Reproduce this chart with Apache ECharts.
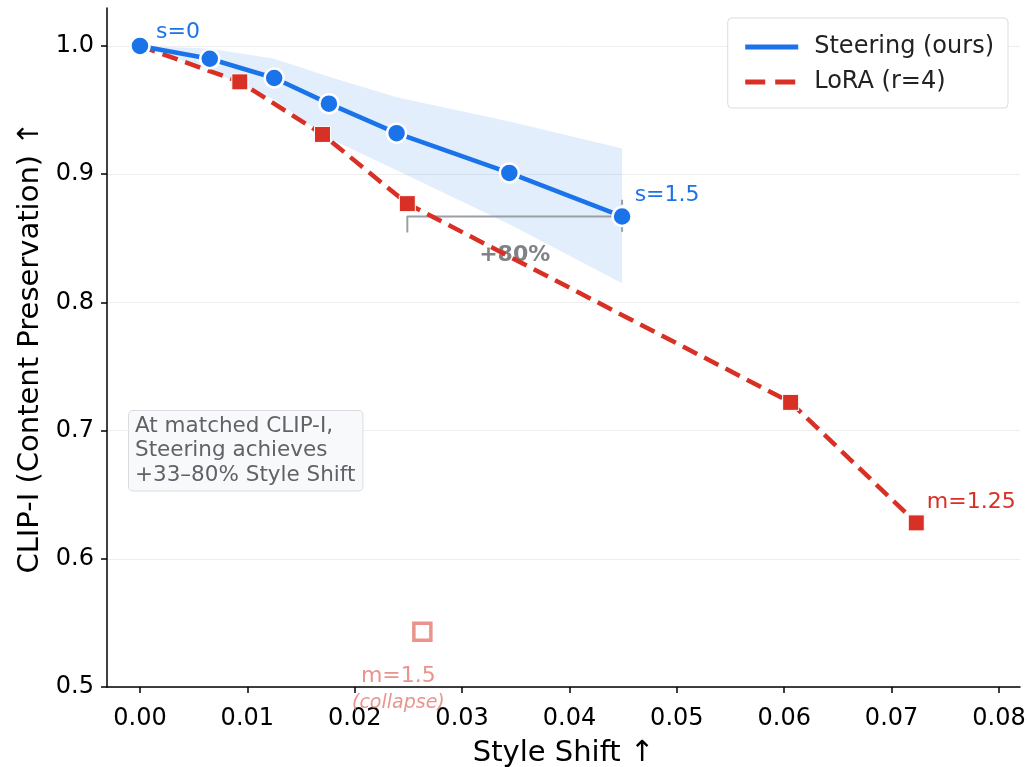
<!DOCTYPE html>
<html>
<head>
<meta charset="utf-8">
<script src="https://cdn.jsdelivr.net/npm/echarts@6/dist/echarts.min.js"></script>
<style>
html,body{margin:0;padding:0;background:#fff;}
#chart{width:1029px;height:767px;}
</style>
</head>
<body>
<div id="chart"></div>
<script>
// ---- data ----
const steerX = [0, 0.0065, 0.0125, 0.0176, 0.0239, 0.0344, 0.0449];
const steerY = [1.0, 0.990, 0.975, 0.955, 0.932, 0.901, 0.867];
const steerUpper = [1.0, 0.998, 0.990, 0.976, 0.960, 0.941, 0.920];
const steerLower = [1.0, 0.981, 0.958, 0.928, 0.903, 0.861, 0.815];
const loraX = [0, 0.0093, 0.0170, 0.0249, 0.0606, 0.0723];
const loraY = [1.0, 0.972, 0.931, 0.877, 0.722, 0.628];
const collapseX = [0.0263];
const collapseY = [0.543];
const xTicks = [0, 0.01, 0.02, 0.03, 0.04, 0.05, 0.06, 0.07, 0.08];
const yTicks = [0.5, 0.6, 0.7, 0.8, 0.9, 1.0];
const gapLabel = '+80%';

const BLUE = '#1a73e8', RED = '#d93025', FADED = '#e5786f', GRAY = '#9aa0a6';
const FONT = 'DejaVu Sans';

const steerData = steerX.map((x, i) => [x, steerY[i]]);
const loraData = loraX.map((x, i) => [x, loraY[i]]);
const nS = steerX.length - 1, nL = 3;
// bracket between LoRA point and Steering endpoint at matched CLIP-I
const bracketY = steerY[nS];
const bracketMain = [[loraX[nL], bracketY - 0.0125], [loraX[nL], bracketY], [steerX[nS], bracketY]];
const bracketRight = [[steerX[nS], bracketY + 0.013], [steerX[nS], bracketY - 0.0125]];

steerData[0] = {value: steerData[0], label: {show: true, formatter: 's=0', position: 'inside', offset: [38, -14], color: BLUE, fontSize: 22, fontFamily: FONT}};
steerData[nS] = {value: steerData[nS], label: {show: true, formatter: 's=1.5', position: 'inside', offset: [45, -21], color: BLUE, fontSize: 22, fontFamily: FONT}};
loraData[loraData.length - 1] = {value: loraData[loraData.length - 1], label: {show: true, formatter: 'm=1.25', position: 'inside', offset: [55, -21], color: RED, fontSize: 22, fontFamily: FONT}};

const chart = echarts.init(document.getElementById('chart'), null, {renderer: 'canvas'});
const option = {
  animation: false,
  backgroundColor: '#fff',
  grid: {left: 107, right: 9, top: 8, bottom: 80, containLabel: false, outerBoundsMode: 'none'},
  xAxis: {
    type: 'value', min: -0.00307, max: 0.08196,
    name: 'Style Shift ↑', nameLocation: 'middle', nameGap: 52,
    nameTextStyle: {fontSize: 29, fontFamily: FONT, color: '#000'},
    axisLine: {show: true, onZero: false, lineStyle: {color: '#000', width: 1.5}},
    axisTick: {show: true, length: 6, lineStyle: {color: '#000', width: 1.5}, customValues: xTicks},
    axisLabel: {fontSize: 24, fontFamily: FONT, color: '#000', margin: 20, customValues: xTicks, formatter: v => v.toFixed(2)},
    splitLine: {show: false}
  },
  yAxis: {
    type: 'value', min: 0.5, max: 1.0296,
    name: 'CLIP-I (Content Preservation) ↑', nameLocation: 'middle', nameGap: 61,
    nameTextStyle: {fontSize: 29, fontFamily: FONT, color: '#000'},
    axisLine: {show: true, onZero: false, lineStyle: {color: '#000', width: 1.5}},
    axisTick: {show: true, length: 6, lineStyle: {color: '#000', width: 1.5}, customValues: yTicks},
    axisLabel: {fontSize: 24, fontFamily: FONT, color: '#000', margin: 13, customValues: yTicks, formatter: v => v.toFixed(1)},
    splitLine: {show: true, lineStyle: {color: '#eeeeee', width: 1}}
  },
  legend: {
    data: ['Steering (ours)', 'LoRA (r=4)'],
    orient: 'vertical', right: 21, top: 18,
    itemWidth: 53, itemHeight: 20, itemGap: 11,
    padding: [17, 14, 14, 15],
    borderColor: '#dddddd', borderWidth: 1, borderRadius: 4,
    backgroundColor: '#fff',
    itemStyle: {opacity: 0},
    lineStyle: {width: 5},
    textStyle: {fontSize: 24, fontFamily: FONT, color: '#222', padding: [0, 0, 0, 11]}
  },
  graphic: [{
    type: 'text', left: 128, top: 410, z: 50,
    style: {
      text: 'At matched CLIP-I,\nSteering achieves\n+33–80% Style Shift',
      font: '21.5px "DejaVu Sans"', fill: '#5f6368', lineHeight: 24.5,
      backgroundColor: '#f8f9fa', borderColor: '#dadce0', borderWidth: 1, borderRadius: 4,
      padding: [3, 7, 3, 6]
    }
  }],
  series: [
    {
      name: 'band', type: 'custom', z: 1, silent: true,
      data: [[0, 1]],
      renderItem: function (params, api) {
        const pts = [];
        for (let i = 0; i < steerX.length; i++) pts.push(api.coord([steerX[i], steerUpper[i]]));
        for (let i = steerX.length - 1; i >= 0; i--) pts.push(api.coord([steerX[i], steerLower[i]]));
        return {type: 'polygon', shape: {points: pts}, style: {fill: 'rgba(26,115,232,0.12)'}};
      }
    },
    {
      name: 'bracket', type: 'line', z: 2, data: bracketMain, symbol: 'none', silent: true,
      lineStyle: {color: GRAY, width: 2}
    },
    {
      name: 'bracket2', type: 'line', z: 2, data: bracketRight, symbol: 'none', silent: true,
      lineStyle: {color: GRAY, width: 2, type: [5, 4]}
    },
    {
      name: 'gapText', type: 'scatter', z: 2, silent: true, symbolSize: 1,
      itemStyle: {color: 'rgba(0,0,0,0)'},
      data: [{value: [0.0349, 0.837], label: {show: true, formatter: gapLabel, position: 'inside', color: '#5f6368', fontSize: 22, fontWeight: 'bold', fontFamily: FONT}}]
    },
    {
      name: 'loraLine', type: 'line', z: 3, data: loraData,
      symbol: 'rect', symbolSize: 16, showSymbol: true,
      lineStyle: {color: RED, width: 4.5, type: [16, 8]},
      itemStyle: {color: RED, borderColor: '#fff', borderWidth: 1}
    },
    {
      name: 'steerLine', type: 'line', z: 4, data: steerData,
      symbol: 'circle', symbolSize: 19, showSymbol: true,
      lineStyle: {color: BLUE, width: 4.5},
      itemStyle: {color: BLUE, borderColor: '#fff', borderWidth: 2.5}
    },
    {
      name: 'collapse', type: 'scatter', z: 4,
      data: collapseX.map((x, i) => ({value: [x, collapseY[i]],
        label: {show: true, position: 'inside', offset: [-24, 58], formatter: '{a|m=1.5}\n{b|(collapse)}',
          rich: {a: {fontSize: 22, fontFamily: FONT, color: FADED, lineHeight: 27}, b: {fontSize: 19, fontStyle: 'italic', fontFamily: FONT, color: FADED, lineHeight: 27}}}})),
      symbol: 'rect', symbolSize: 17,
      itemStyle: {color: '#fff', borderColor: FADED, borderWidth: 3.5}
    },
    {
      name: 'Steering (ours)', type: 'line', data: [], symbol: 'none',
      lineStyle: {color: BLUE, width: 5}, itemStyle: {color: BLUE}
    },
    {
      name: 'LoRA (r=4)', type: 'line', data: [], symbol: 'none',
      lineStyle: {color: RED, width: 5, type: [20, 10]}, itemStyle: {color: RED}
    }
  ]
};
chart.setOption(option);
</script>
</body>
</html>
